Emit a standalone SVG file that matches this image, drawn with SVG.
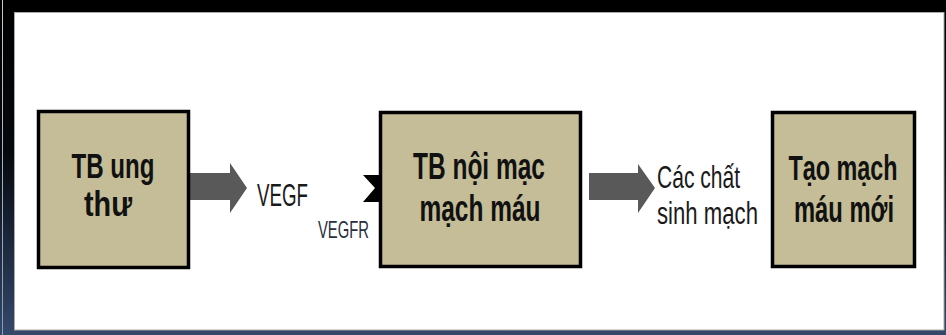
<svg xmlns="http://www.w3.org/2000/svg" width="946" height="335" viewBox="0 0 946 335">
  <defs>
    <linearGradient id="frameGrad" x1="0" y1="0" x2="0" y2="1">
      <stop offset="0" stop-color="#000000"/>
      <stop offset="0.45" stop-color="#05080d"/>
      <stop offset="1" stop-color="#34486a"/>
    </linearGradient>
    <linearGradient id="edgeGrad" x1="0" y1="0" x2="0" y2="1">
      <stop offset="0" stop-color="#c8c8c8"/>
      <stop offset="1" stop-color="#8a9ab4"/>
    </linearGradient>
    <style>
      .box { fill: #c4bd97; stroke: #000000; stroke-width: 3.5; }
      .boxtext { font-family: "Liberation Sans", Arial, sans-serif; font-weight: bold; font-size: 36px; fill: #111111; text-anchor: middle; }
      .label { font-family: "Liberation Sans", Arial, sans-serif; font-size: 32px; fill: #1a1a1a; }
      .small { font-family: "Liberation Sans", Arial, sans-serif; font-size: 24px; fill: #2a2f3f; }
      .flow { fill: #595959; }
      .receptor { fill: #000000; }
    </style>
  </defs>

  <!-- dark frame and white panel -->
  <rect x="0" y="0" width="946" height="335" fill="url(#frameGrad)"/>
  <rect x="2" y="0" width="1" height="335" fill="url(#edgeGrad)"/>
  <rect x="14.5" y="12.5" width="929.5" height="317.5" fill="#ffffff" stroke="#a9a9a9" stroke-width="1"/>

  <!-- connectors -->
  <g id="connectors">
    <polygon class="flow" points="189,173 230,173 230,163 247,188 230,213 230,200 189,200"/>
    <polygon class="flow" points="589,173 638,173 638,164 655,188 638,213 638,200 589,200"/>
    <polygon class="receptor" points="363,175 388,175 397,188 388,202 363,202 375,188"/>
  </g>

  <!-- labels on the connectors -->
  <g id="label-vegf">
    <text class="label" x="257" y="206" textLength="51" lengthAdjust="spacingAndGlyphs">VEGF</text>
  </g>
  <g id="label-vegfr">
    <text class="small" x="318" y="238" textLength="51" lengthAdjust="spacingAndGlyphs">VEGFR</text>
  </g>
  <g id="label-angiogenic">
    <text class="label" x="657" y="188" textLength="83" lengthAdjust="spacingAndGlyphs">Các chất</text>
    <text class="label" x="657" y="224" textLength="101" lengthAdjust="spacingAndGlyphs">sinh mạch</text>
  </g>

  <!-- nodes: bold captions condensed horizontally -->
  <g id="node-cancer-cell">
    <rect class="box" x="38.5" y="111.5" width="150" height="156"/>
    <text class="boxtext" transform="translate(113,178) scale(0.67,1)">TB ung</text>
    <text class="boxtext" transform="translate(108,216) scale(0.8,1)">thư</text>
  </g>

  <g id="node-endothelial-cell">
    <rect class="box" x="380.5" y="112.5" width="200" height="154"/>
    <text class="boxtext" transform="translate(479,179) scale(0.68,1)">TB nội mạc</text>
    <text class="boxtext" transform="translate(480,221) scale(0.68,1)">mạch máu</text>
  </g>

  <g id="node-new-vessels">
    <rect class="box" x="772.5" y="112.5" width="142" height="154"/>
    <text class="boxtext" transform="translate(843,180) scale(0.65,1)">Tạo mạch</text>
    <text class="boxtext" transform="translate(844,222) scale(0.66,1)">máu mới</text>
  </g>
</svg>
